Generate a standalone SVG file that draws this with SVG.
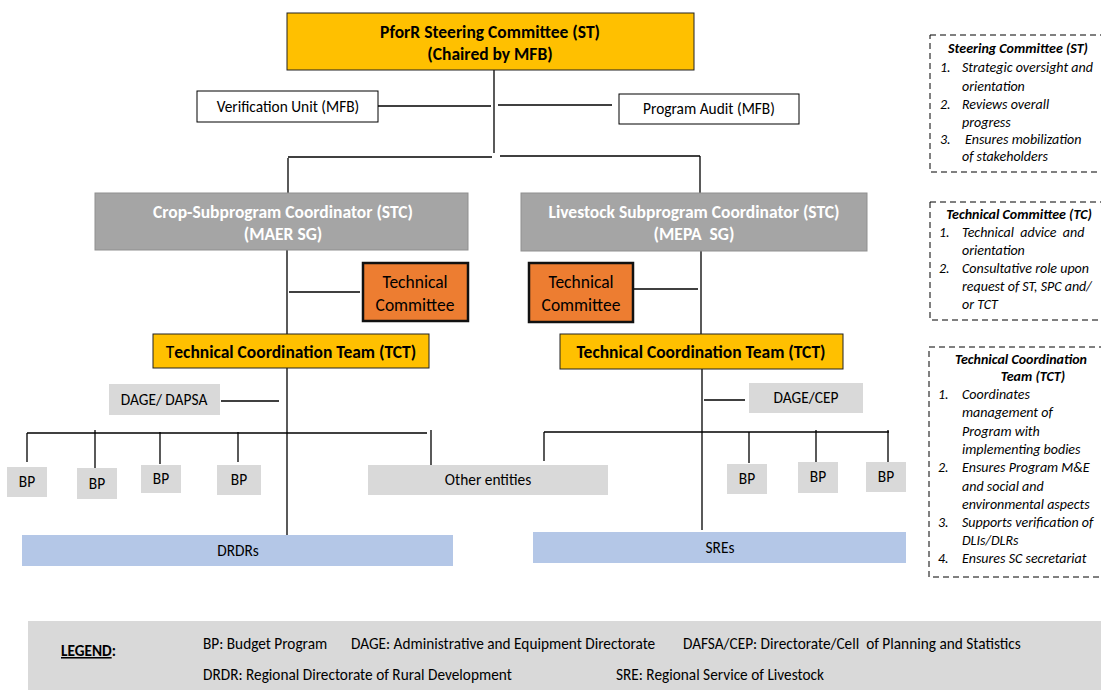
<svg xmlns="http://www.w3.org/2000/svg" width="1101" height="690" viewBox="0 0 1101 690">
<style>
text{font-family:Carlito,Lato,"Open Sans",sans-serif;fill:#000}
.t{font-size:15.4px;text-anchor:middle}
.tb{font-size:17.5px;font-weight:bold;text-anchor:middle}
.tw{font-size:17.5px;font-weight:bold;text-anchor:middle;fill:#fff}
.tc{font-size:17.5px;text-anchor:middle}
.n{font-size:14px;font-style:italic}
.nh{font-size:14px;font-style:italic;font-weight:bold;text-anchor:middle}
.lg{font-size:15.3px}
.c line{stroke:#000;stroke-width:1.3}
.gold{fill:#FFC000;stroke:#222;stroke-width:1}
.white{fill:#fff;stroke:#000;stroke-width:1}
.grey{fill:#A5A5A5;stroke:#8f8f8f;stroke-width:1}
.orange{fill:#ED7D31;stroke:#111;stroke-width:2.5}
.light{fill:#D9D9D9}
.blue{fill:#B4C7E7}
.dash{fill:none;stroke:#000;stroke-width:1;stroke-dasharray:6 4}
</style>

<g class="c" id="connectors">
<line x1="494" y1="70" x2="494" y2="153"/>
<line x1="378" y1="106" x2="491" y2="106"/>
<line x1="498" y1="105" x2="612" y2="105"/>
<line x1="288" y1="157" x2="492" y2="157"/>
<line x1="500" y1="156" x2="700" y2="156"/>
<line x1="288" y1="158" x2="288" y2="193"/>
<line x1="700" y1="156" x2="700" y2="193"/>
<line x1="287" y1="250" x2="287" y2="535"/>
<line x1="289" y1="292" x2="360" y2="292"/>
<line x1="221" y1="401" x2="279" y2="401"/>
<line x1="27" y1="433" x2="427" y2="433"/>
<line x1="27" y1="433" x2="27" y2="462"/>
<line x1="95" y1="430" x2="95" y2="468"/>
<line x1="160" y1="432" x2="160" y2="464"/>
<line x1="238" y1="432" x2="238" y2="462"/>
<line x1="431" y1="430" x2="431" y2="469"/>
<line x1="701" y1="251" x2="701" y2="334"/>
<line x1="702" y1="369" x2="702" y2="530"/>
<line x1="633" y1="289" x2="698" y2="289"/>
<line x1="704" y1="400" x2="745" y2="400"/>
<line x1="544" y1="432" x2="889" y2="432"/>
<line x1="544" y1="432" x2="544" y2="461"/>
<line x1="749" y1="432" x2="749" y2="463"/>
<line x1="816" y1="430" x2="816" y2="462"/>
<line x1="888" y1="430" x2="888" y2="463"/>
</g>

<g id="steering">
<rect class="gold" x="287" y="13" width="407" height="57"/>
<text class="tb" x="490" y="38">PforR Steering Committee (ST)</text>
<text class="tb" x="490" y="60">(Chaired by MFB)</text>
</g>
<g id="verification">
<rect class="white" x="197" y="91" width="181" height="31"/>
<text class="t" x="288" y="112">Verification Unit (MFB)</text>
</g>
<g id="audit">
<rect class="white" x="619" y="94" width="180" height="30"/>
<text class="t" x="709" y="114">Program Audit (MFB)</text>
</g>
<g id="crop">
<rect class="grey" x="95" y="193" width="373" height="57"/>
<text class="tw" x="283" y="218">Crop-Subprogram Coordinator (STC)</text>
<text class="tw" x="283" y="240">(MAER SG)</text>
</g>
<g id="livestock">
<rect class="grey" x="521" y="193" width="346" height="58"/>
<text class="tw" x="694" y="218">Livestock Subprogram Coordinator (STC)</text>
<text class="tw" x="694" y="240" xml:space="preserve">(MEPA  SG)</text>
</g>
<g id="tc-left">
<rect class="orange" x="363" y="263" width="105" height="58"/>
<text class="tc" x="415" y="288">Technical</text>
<text class="tc" x="415" y="311">Committee</text>
</g>
<g id="tc-right">
<rect class="orange" x="529" y="263" width="104" height="59"/>
<text class="tc" x="581" y="288">Technical</text>
<text class="tc" x="581" y="311">Committee</text>
</g>
<g id="tct-left">
<rect class="gold" x="153" y="334" width="276" height="34"/>
<text class="tb" x="291" y="358"><tspan font-weight="normal">T</tspan>echnical Coordination Team (TCT)</text>
</g>
<g id="tct-right">
<rect class="gold" x="560" y="334" width="283" height="35"/>
<text class="tb" x="701" y="358">Technical Coordination Team (TCT)</text>
</g>
<g id="dage-dapsa">
<rect class="light" x="109" y="384" width="111" height="31"/>
<text class="t" x="164" y="405">DAGE/ DAPSA</text>
</g>
<g id="dage-cep">
<rect class="light" x="749" y="383" width="114" height="30"/>
<text class="t" x="806" y="403">DAGE/CEP</text>
</g>
<g id="bp1"><rect class="light" x="7" y="467" width="40" height="30"/><text class="t" x="27" y="487">BP</text></g>
<g id="bp2"><rect class="light" x="77" y="468" width="40" height="31"/><text class="t" x="97" y="489">BP</text></g>
<g id="bp3"><rect class="light" x="141" y="465" width="40" height="28"/><text class="t" x="161" y="484">BP</text></g>
<g id="bp4"><rect class="light" x="217" y="465" width="44" height="30"/><text class="t" x="239" y="485">BP</text></g>
<g id="other">
<rect class="light" x="368" y="465" width="240" height="30"/>
<text class="t" x="488" y="485">Other entities</text>
</g>
<g id="bp5"><rect class="light" x="727" y="464" width="40" height="30"/><text class="t" x="747" y="484">BP</text></g>
<g id="bp6"><rect class="light" x="798" y="462" width="40" height="31"/><text class="t" x="818" y="482">BP</text></g>
<g id="bp7"><rect class="light" x="866" y="462" width="40" height="30"/><text class="t" x="886" y="482">BP</text></g>
<g id="drdrs">
<rect class="blue" x="22" y="535" width="431" height="31"/>
<text class="t" x="238" y="556">DRDRs</text>
</g>
<g id="sres">
<rect class="blue" x="533" y="532" width="373" height="31"/>
<text class="t" x="720" y="553">SREs</text>
</g>

<g id="note-st">
<rect class="dash" x="930" y="35" width="185" height="137"/>
<text class="nh" x="1018" y="53">Steering Committee (ST)</text>
<text class="n" x="940" y="72">1.</text><text class="n" x="962" y="72">Strategic oversight and</text>
<text class="n" x="962" y="91">orientation</text>
<text class="n" x="940" y="109">2.</text><text class="n" x="962" y="109">Reviews overall</text>
<text class="n" x="962" y="127">progress</text>
<text class="n" x="940" y="144">3.</text><text class="n" x="965" y="144">Ensures mobilization</text>
<text class="n" x="962" y="161">of stakeholders</text>
</g>
<g id="note-tc">
<rect class="dash" x="930" y="202" width="185" height="118"/>
<text class="nh" x="1019" y="219">Technical Committee (TC)</text>
<text class="n" x="939" y="237">1.</text><text class="n" x="962" y="237" xml:space="preserve">Technical  advice  and</text>
<text class="n" x="962" y="255">orientation</text>
<text class="n" x="939" y="273">2.</text><text class="n" x="962" y="273">Consultative role upon</text>
<text class="n" x="962" y="291">request of ST, SPC and/</text>
<text class="n" x="962" y="309">or TCT</text>
</g>
<g id="note-tct">
<rect class="dash" x="929" y="347" width="185" height="230"/>
<text class="nh" x="1021" y="364">Technical Coordination</text>
<text class="nh" x="1033" y="381">Team (TCT)</text>
<text class="n" x="938" y="399">1.</text><text class="n" x="962" y="399">Coordinates</text>
<text class="n" x="962" y="417">management of</text>
<text class="n" x="962" y="436">Program with</text>
<text class="n" x="962" y="454">implementing bodies</text>
<text class="n" x="938" y="472">2.</text><text class="n" x="962" y="472">Ensures Program M&amp;E</text>
<text class="n" x="962" y="491">and social and</text>
<text class="n" x="962" y="509">environmental aspects</text>
<text class="n" x="938" y="527">3.</text><text class="n" x="962" y="527">Supports verification of</text>
<text class="n" x="962" y="545">DLIs/DLRs</text>
<text class="n" x="938" y="563">4.</text><text class="n" x="962" y="563">Ensures SC secretariat</text>
</g>

<g id="legend">
<rect class="light" x="28" y="621" width="1080" height="75"/>
<text class="lg" x="61" y="656" font-weight="bold"><tspan text-decoration="underline">LEGEND</tspan>:</text>
<text class="lg" x="203" y="649">BP: Budget Program</text>
<text class="lg" x="351" y="649">DAGE: Administrative and Equipment Directorate</text>
<text class="lg" x="683" y="649" xml:space="preserve">DAFSA/CEP: Directorate/Cell  of Planning and Statistics</text>
<text class="lg" x="203" y="680">DRDR: Regional Directorate of Rural Development</text>
<text class="lg" x="616" y="680">SRE: Regional Service of Livestock</text>
</g>
</svg>
